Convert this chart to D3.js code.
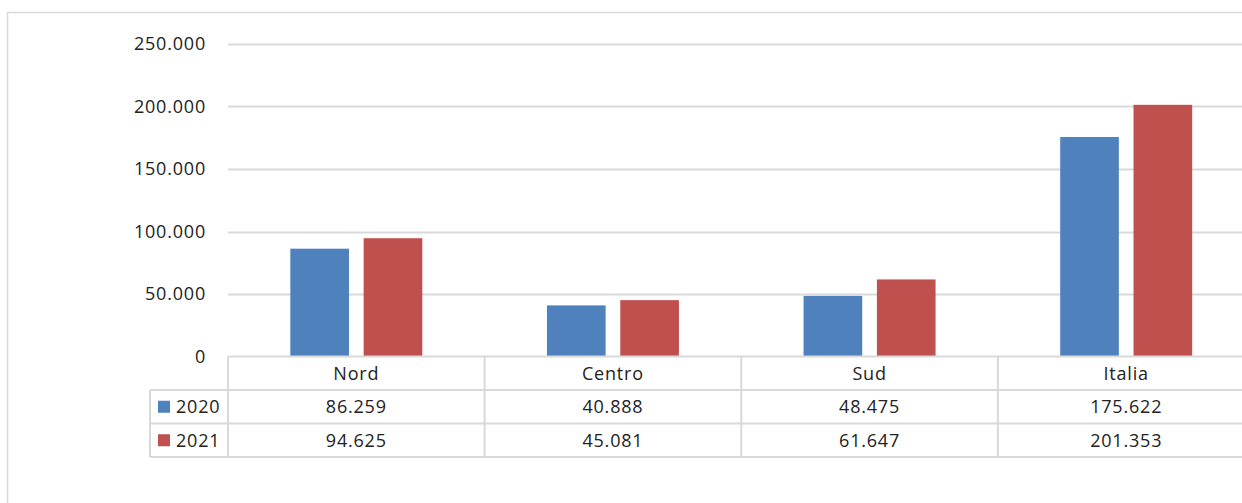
<!DOCTYPE html>
<html lang="it">
<head>
  <meta charset="UTF-8">
  <title>Nord Centro Sud Italia 2020-2021</title>
  <script src="https://d3js.org/d3.v7.min.js"></script>
  <style>
    body { margin: 0; background: #fff; }
    svg text { font-family: "Open Sans", "Noto Sans", sans-serif; fill: #222; letter-spacing: 0.8px; }
  </style>
</head>
<body>
<div id="chart"></div>
<script>
// data
var categories = ["Nord", "Centro", "Sud", "Italia"];
var seriesNames = ["2020", "2021"];
var values2020 = [86259, 40888, 48475, 175622];
var values2021 = [94625, 45081, 61647, 201353];
var yTicks = [0, 50000, 100000, 150000, 200000, 250000];
var colors = ["#4F81BD", "#C0504D"];

var seriesValues = [values2020, values2021];

var W = 1242, H = 503;
var plot = {left: 228, right: 1254.5, top: 44, bottom: 356.5};
var rowH = 33.5;

var svg = d3.select("#chart").append("svg")
    .attr("width", W)
    .attr("height", H);

// outer frame (cut by the window on the right and bottom)
svg.append("rect")
    .attr("x", 7.5).attr("y", 12.5)
    .attr("width", 1300).attr("height", 600)
    .attr("fill", "none")
    .attr("stroke", "#d9d9d9")
    .attr("stroke-width", 1.5);

var x0 = d3.scaleBand()
    .domain(categories)
    .range([plot.left, plot.right]);

var x1 = d3.scaleBand()
    .domain(seriesNames)
    .range([0, x0.bandwidth()])
    .paddingInner(0.2)
    .paddingOuter(0.85);

var y = d3.scaleLinear()
    .domain([0, 250000])
    .range([plot.bottom, plot.top]);

var fmt = function(v) { return d3.format(",")(v).replace(/,/g, "."); };

// gridlines
svg.append("g")
  .selectAll("line")
  .data(yTicks.filter(function(d) { return d > 0; }))
  .enter().append("line")
    .attr("x1", plot.left).attr("x2", W)
    .attr("y1", function(d) { return Math.round(y(d)) + 0.5; })
    .attr("y2", function(d) { return Math.round(y(d)) + 0.5; })
    .attr("stroke", "#d9d9d9")
    .attr("stroke-width", 2);

// y labels
svg.append("g")
  .selectAll("text")
  .data(yTicks)
  .enter().append("text")
    .attr("x", 206)
    .attr("y", function(d) { return y(d); })
    .attr("dy", "0.35em")
    .attr("text-anchor", "end")
    .style("font-size", "18px")
    .text(function(d) { return fmt(d); });

// bars
var groups = svg.append("g")
  .selectAll("g")
  .data(categories)
  .enter().append("g")
    .attr("transform", function(d) { return "translate(" + x0(d) + ",0)"; });

groups.selectAll("rect")
  .data(function(d, i) {
    return seriesNames.map(function(s, j) { return {key: s, value: seriesValues[j][i], j: j}; });
  })
  .enter().append("rect")
    .attr("x", function(d) { return x1(d.key); })
    .attr("y", function(d) { return y(d.value); })
    .attr("width", x1.bandwidth())
    .attr("height", function(d) { return plot.bottom - y(d.value); })
    .attr("fill", function(d) { return colors[d.j]; });

// data table
var tTop = plot.bottom;
var tLeft = 150;
var grid = svg.append("g")
    .attr("stroke", "#d9d9d9")
    .attr("stroke-width", 2);

// horizontal lines
grid.append("line")
    .attr("x1", plot.left).attr("x2", W)
    .attr("y1", tTop).attr("y2", tTop);
[1, 2, 3].forEach(function(r) {
  grid.append("line")
      .attr("x1", tLeft).attr("x2", W)
      .attr("y1", tTop + r * rowH).attr("y2", tTop + r * rowH);
});

// vertical lines
grid.append("line")
    .attr("x1", tLeft).attr("x2", tLeft)
    .attr("y1", tTop + rowH).attr("y2", tTop + 3 * rowH);
categories.forEach(function(c) {
  grid.append("line")
      .attr("x1", x0(c)).attr("x2", x0(c))
      .attr("y1", tTop).attr("y2", tTop + 3 * rowH);
});

// header row
svg.append("g")
  .selectAll("text")
  .data(categories)
  .enter().append("text")
    .attr("x", function(d) { return x0(d) + x0.bandwidth() / 2; })
    .attr("y", tTop + rowH / 2)
    .attr("dy", "0.35em")
    .attr("text-anchor", "middle")
    .style("font-size", "18px")
    .text(function(d) { return d; });

// value rows
seriesNames.forEach(function(s, j) {
  var ry = tTop + (j + 1) * rowH + rowH / 2;
  svg.append("rect")
      .attr("x", 158).attr("y", ry - 6)
      .attr("width", 12).attr("height", 12)
      .attr("fill", colors[j]);
  svg.append("text")
      .attr("x", 176)
      .attr("y", ry)
      .attr("dy", "0.35em")
      .style("font-size", "18px")
      .text(s);
  svg.append("g")
    .selectAll("text")
    .data(seriesValues[j])
    .enter().append("text")
      .attr("x", function(d, i) { return x0(categories[i]) + x0.bandwidth() / 2; })
      .attr("y", ry)
      .attr("dy", "0.35em")
      .attr("text-anchor", "middle")
      .style("font-size", "18px")
      .text(function(d) { return fmt(d); });
});
</script>
</body>
</html>
